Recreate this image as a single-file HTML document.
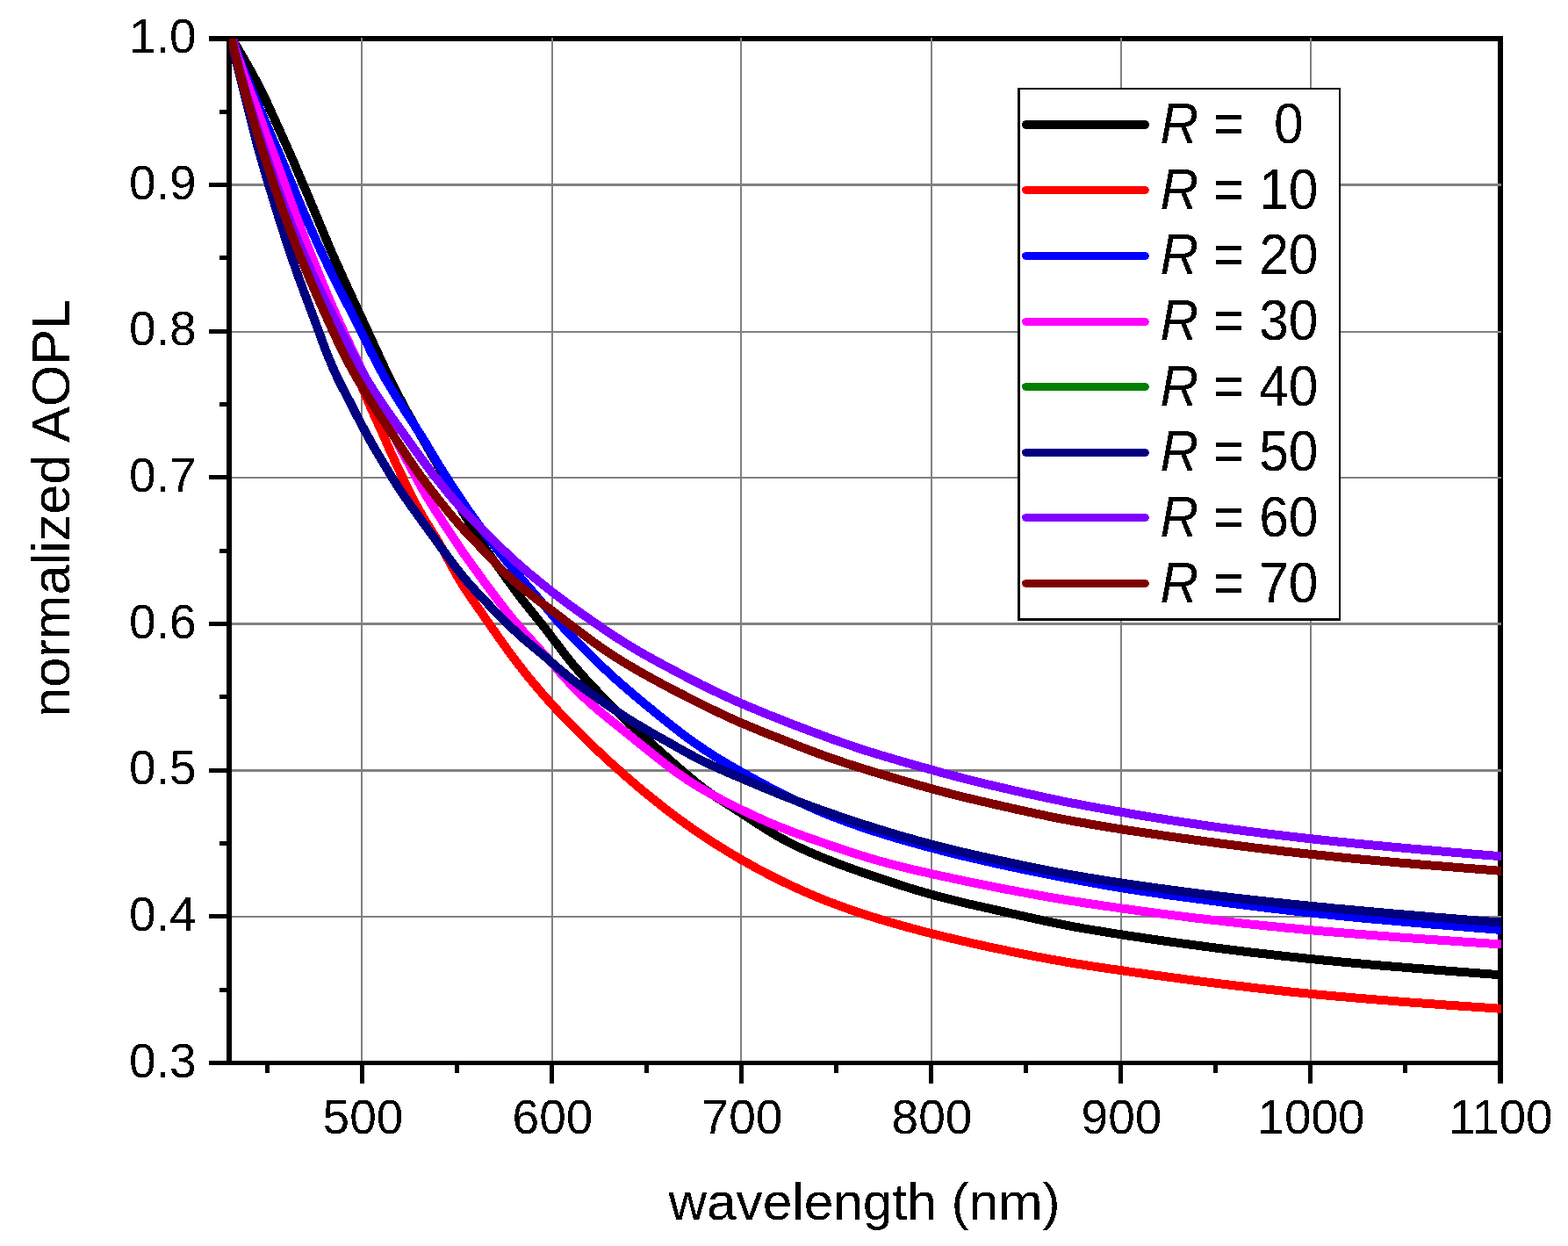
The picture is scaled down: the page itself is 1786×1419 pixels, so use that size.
<!DOCTYPE html>
<html lang="en"><head><meta charset="utf-8"><title>normalized AOPL vs wavelength</title>
<style>html,body{margin:0;padding:0;background:#fff}body{width:1786px;height:1419px;overflow:hidden}svg{display:block}text{font-family:"Liberation Sans",Arial,Helvetica,sans-serif;fill:#000}.tk{font-size:55px}.ax{font-size:60px}.lg{font-size:62.6px}.it{font-style:italic}</style></head><body>
<svg width="1786" height="1419" viewBox="0 0 1786 1419">
<rect width="1786" height="1419" fill="#fff"/>
<defs><clipPath id="c"><rect x="261" y="44" width="1449" height="1166"/></clipPath><filter id="t" x="0" y="0" width="1786" height="1419" filterUnits="userSpaceOnUse" color-interpolation-filters="sRGB"><feComponentTransfer><feFuncA type="discrete" tableValues="0 1"/></feComponentTransfer></filter></defs>
<g fill="#000" shape-rendering="crispEdges"><rect x="238" y="41" width="1474" height="6"/><rect x="1706" y="41" width="6" height="1193"/></g>
<g fill="#808080" shape-rendering="crispEdges"><rect x="411" y="43" width="2" height="1165"/><rect x="628" y="43" width="2" height="1165"/><rect x="843" y="43" width="2" height="1165"/><rect x="1060" y="43" width="2" height="1165"/><rect x="1276" y="43" width="2" height="1165"/><rect x="1492" y="43" width="2" height="1165"/><rect x="264" y="209" width="1446" height="3"/><rect x="264" y="377" width="1446" height="2"/><rect x="264" y="543" width="1446" height="2"/><rect x="264" y="709" width="1446" height="3"/><rect x="264" y="876" width="1446" height="3"/><rect x="264" y="1043" width="1446" height="2"/></g>
<g fill="#000" shape-rendering="crispEdges"><rect x="238" y="1208" width="1474" height="5"/><rect x="258" y="41" width="6" height="1172"/><rect x="238" y="1041" width="21" height="5"/><rect x="238" y="875" width="21" height="5"/><rect x="238" y="708" width="21" height="5"/><rect x="238" y="541" width="21" height="5"/><rect x="238" y="375" width="21" height="5"/><rect x="238" y="208" width="21" height="5"/><rect x="250" y="1125" width="9" height="5"/><rect x="250" y="958" width="9" height="5"/><rect x="250" y="791" width="9" height="5"/><rect x="250" y="625" width="9" height="5"/><rect x="250" y="458" width="9" height="5"/><rect x="250" y="291" width="9" height="5"/><rect x="250" y="125" width="9" height="5"/><rect x="410" y="1210" width="5" height="24"/><rect x="626" y="1210" width="5" height="24"/><rect x="842" y="1210" width="5" height="24"/><rect x="1058" y="1210" width="5" height="24"/><rect x="1274" y="1210" width="5" height="24"/><rect x="1490" y="1210" width="5" height="24"/><rect x="302" y="1210" width="5" height="12"/><rect x="518" y="1210" width="5" height="12"/><rect x="734" y="1210" width="5" height="12"/><rect x="950" y="1210" width="5" height="12"/><rect x="1166" y="1210" width="5" height="12"/><rect x="1382" y="1210" width="5" height="12"/><rect x="1598" y="1210" width="5" height="12"/></g>
<g clip-path="url(#c)" fill="none" stroke-width="10" stroke-linejoin="round" shape-rendering="crispEdges"><path d="M251.2,21.7 L254.3,27.0 L257.4,32.4 L260.6,37.7 L263.7,43.0 L266.9,48.4 L270.0,53.7 L273.2,59.1 L276.3,64.4 L279.4,69.8 L282.5,75.2 L285.6,80.6 L288.6,86.1 L291.6,91.6 L294.5,97.1 L297.4,102.8 L300.1,108.5 L302.9,114.2 L305.5,120.0 L308.2,125.9 L310.9,131.7 L313.5,137.5 L316.1,143.4 L318.8,149.2 L321.4,155.1 L324.1,160.9 L326.7,166.8 L329.3,172.6 L331.9,178.5 L334.5,184.4 L337.0,190.4 L339.5,196.3 L342.1,202.3 L344.6,208.3 L347.1,214.2 L349.7,220.1 L352.2,226.1 L354.7,232.1 L357.2,238.1 L359.7,244.1 L362.2,250.1 L364.7,256.1 L367.2,262.1 L369.6,268.1 L372.2,274.0 L374.7,280.0 L377.2,285.9 L379.8,291.8 L382.4,297.7 L385.1,303.6 L387.7,309.4 L390.3,315.3 L393.0,321.1 L395.6,326.9 L398.3,332.7 L401.0,338.6 L403.7,344.4 L406.3,350.2 L409.0,356.0 L411.7,361.8 L414.4,367.6 L417.1,373.4 L419.7,379.2 L422.4,385.0 L425.1,390.8 L427.8,396.6 L430.5,402.4 L433.1,408.2 L435.8,414.0 L438.5,419.8 L441.3,425.5 L444.1,431.2 L446.9,436.9 L449.7,442.6 L452.6,448.2 L455.5,453.7 L458.5,459.3 L461.4,464.8 L464.4,470.3 L467.5,475.7 L470.5,481.1 L473.6,486.5 L476.8,491.9 L479.9,497.2 L483.0,502.6 L486.1,508.0 L489.2,513.4 L492.3,518.8 L495.4,524.2 L498.5,529.5 L501.6,535.0 L504.6,540.4 L507.6,545.9 L510.5,551.5 L513.4,557.1 L516.3,562.7 L519.2,568.3 L522.1,573.8 L525.1,579.3 L528.2,584.7 L531.3,590.1 L534.5,595.4 L537.6,600.7 L540.9,606.0 L544.1,611.2 L547.4,616.4 L550.8,621.5 L554.2,626.6 L557.6,631.6 L561.1,636.6 L564.6,641.6 L568.2,646.6 L571.7,651.5 L575.3,656.4 L578.8,661.3 L582.4,666.3 L586.0,671.2 L589.6,676.0 L593.2,680.9 L597.0,685.6 L600.7,690.4 L604.5,695.1 L608.3,699.8 L612.0,704.5 L615.8,709.2 L619.5,714.0 L623.3,718.7 L626.9,723.5 L630.6,728.3 L634.3,733.2 L637.9,738.0 L641.6,742.8 L645.3,747.6 L649.1,752.3 L652.9,757.0 L656.8,761.6 L660.8,766.1 L664.7,770.6 L668.8,775.0 L672.8,779.5 L676.9,783.8 L681.1,788.2 L685.2,792.5 L689.4,796.9 L693.6,801.1 L697.8,805.4 L702.0,809.7 L706.3,813.9 L710.6,818.0 L715.0,822.2 L719.4,826.3 L723.8,830.4 L728.2,834.4 L732.7,838.4 L737.2,842.4 L741.6,846.4 L746.1,850.4 L750.6,854.4 L755.1,858.4 L759.6,862.4 L764.1,866.4 L768.6,870.4 L773.1,874.3 L777.7,878.3 L782.2,882.2 L786.8,886.1 L791.5,889.9 L796.2,893.7 L801.0,897.4 L805.9,901.0 L810.9,904.5 L816.0,907.9 L821.1,911.2 L826.3,914.5 L831.5,917.8 L836.7,921.1 L841.9,924.4 L847.0,927.7 L852.2,931.1 L857.3,934.4 L862.4,937.8 L867.6,941.1 L872.7,944.4 L878.0,947.7 L883.3,950.9 L888.7,954.0 L894.2,956.9 L899.7,959.9 L905.4,962.7 L911.1,965.4 L916.9,968.1 L922.8,970.7 L928.7,973.3 L934.7,975.8 L940.7,978.2 L946.8,980.6 L953.0,983.0 L959.2,985.3 L965.4,987.6 L971.6,989.8 L977.9,992.0 L984.2,994.2 L990.5,996.4 L996.9,998.5 L1003.2,1000.6 L1009.6,1002.8 L1015.9,1004.9 L1022.3,1007.0 L1028.8,1009.0 L1035.2,1011.1 L1041.7,1013.1 L1048.2,1015.0 L1054.8,1016.9 L1061.4,1018.8 L1068.1,1020.6 L1074.8,1022.4 L1081.6,1024.1 L1088.4,1025.8 L1095.2,1027.4 L1102.1,1029.1 L1109.0,1030.7 L1115.9,1032.2 L1122.8,1033.8 L1129.7,1035.3 L1136.7,1036.9 L1143.6,1038.4 L1150.6,1040.0 L1157.5,1041.5 L1164.4,1043.1 L1171.4,1044.6 L1178.3,1046.2 L1185.2,1047.7 L1192.2,1049.2 L1199.2,1050.7 L1206.3,1052.1 L1213.4,1053.5 L1220.5,1054.9 L1227.7,1056.2 L1234.9,1057.5 L1242.1,1058.7 L1249.4,1059.9 L1256.7,1061.1 L1264.0,1062.3 L1271.3,1063.4 L1278.7,1064.6 L1286.0,1065.7 L1293.4,1066.8 L1300.8,1067.9 L1308.2,1069.0 L1315.6,1070.1 L1323.0,1071.1 L1330.4,1072.2 L1337.9,1073.2 L1345.3,1074.3 L1352.8,1075.3 L1360.3,1076.3 L1367.8,1077.3 L1375.3,1078.3 L1382.8,1079.3 L1390.3,1080.2 L1397.8,1081.2 L1405.4,1082.1 L1412.9,1083.1 L1420.5,1084.0 L1428.1,1084.9 L1435.7,1085.8 L1443.3,1086.6 L1450.9,1087.5 L1458.5,1088.4 L1466.2,1089.2 L1473.8,1090.0 L1481.5,1090.8 L1489.2,1091.7 L1496.9,1092.4 L1504.6,1093.2 L1512.3,1094.0 L1520.1,1094.7 L1527.8,1095.5 L1535.6,1096.2 L1543.3,1096.9 L1551.1,1097.6 L1558.9,1098.3 L1566.7,1099.0 L1574.5,1099.7 L1582.3,1100.3 L1590.2,1101.0 L1598.0,1101.6 L1605.8,1102.3 L1613.7,1102.9 L1621.5,1103.5 L1629.4,1104.2 L1637.3,1104.8 L1645.1,1105.4 L1653.0,1106.0 L1660.9,1106.6 L1668.8,1107.2 L1676.6,1107.8 L1684.5,1108.4 L1692.4,1109.0 L1700.3,1109.6 L1708.2,1110.2 L1716.1,1110.8 L1724.0,1111.4 L1731.8,1112.0 L1739.7,1112.6" stroke="#000000"/>
<path d="M256.7,17.5 L258.8,23.8 L260.9,30.2 L262.9,36.7 L264.9,43.1 L267.0,49.6 L269.0,56.1 L271.0,62.5 L273.1,68.9 L275.2,75.3 L277.3,81.7 L279.5,88.0 L281.6,94.3 L283.8,100.7 L286.0,107.0 L288.1,113.3 L290.3,119.6 L292.4,125.9 L294.6,132.3 L296.7,138.6 L298.9,145.0 L301.0,151.3 L303.1,157.7 L305.3,164.0 L307.4,170.4 L309.5,176.7 L311.7,183.1 L313.8,189.4 L316.0,195.8 L318.1,202.1 L320.3,208.4 L322.5,214.7 L324.7,221.0 L326.9,227.3 L329.1,233.5 L331.3,239.8 L333.6,246.1 L335.8,252.3 L338.0,258.5 L340.3,264.8 L342.6,271.0 L344.8,277.2 L347.1,283.5 L349.3,289.7 L351.6,295.9 L353.8,302.1 L356.1,308.4 L358.4,314.6 L360.7,320.8 L363.0,327.0 L365.3,333.1 L367.6,339.3 L370.0,345.4 L372.4,351.4 L374.9,357.5 L377.4,363.5 L379.9,369.4 L382.5,375.3 L385.2,381.1 L387.9,386.9 L390.7,392.6 L393.4,398.3 L396.2,404.1 L398.9,409.8 L401.5,415.7 L404.2,421.5 L406.7,427.5 L409.2,433.4 L411.7,439.4 L414.3,445.4 L416.8,451.3 L419.3,457.3 L421.9,463.2 L424.5,469.0 L427.2,474.9 L429.8,480.7 L432.4,486.6 L435.1,492.4 L437.7,498.3 L440.3,504.2 L442.9,510.1 L445.5,515.9 L448.2,521.7 L450.9,527.5 L453.6,533.3 L456.3,539.0 L459.1,544.8 L461.8,550.6 L464.5,556.3 L467.3,562.0 L470.2,567.6 L473.1,573.2 L476.2,578.6 L479.2,584.0 L482.4,589.4 L485.6,594.7 L488.8,600.0 L492.0,605.2 L495.3,610.4 L498.5,615.7 L501.6,621.1 L504.6,626.5 L507.6,632.0 L510.6,637.5 L513.6,643.0 L516.6,648.5 L519.6,654.0 L522.7,659.3 L525.9,664.6 L529.3,669.8 L532.6,674.9 L536.1,679.9 L539.5,685.0 L543.0,690.0 L546.5,695.0 L550.0,700.0 L553.4,705.0 L556.9,710.0 L560.4,715.0 L563.9,720.0 L567.4,725.0 L570.9,730.0 L574.4,734.9 L578.0,739.9 L581.6,744.8 L585.2,749.6 L588.8,754.5 L592.5,759.2 L596.3,764.0 L600.0,768.7 L603.8,773.4 L607.7,778.0 L611.6,782.6 L615.5,787.2 L619.4,791.8 L623.4,796.3 L627.4,800.7 L631.4,805.2 L635.5,809.6 L639.6,814.0 L643.8,818.3 L647.9,822.6 L652.1,826.9 L656.4,831.2 L660.6,835.4 L664.9,839.6 L669.2,843.8 L673.5,848.0 L677.9,852.1 L682.2,856.2 L686.6,860.3 L691.0,864.4 L695.4,868.5 L699.9,872.5 L704.4,876.5 L708.9,880.5 L713.4,884.5 L717.9,888.4 L722.5,892.3 L727.1,896.2 L731.7,900.1 L736.4,903.9 L741.1,907.7 L745.8,911.5 L750.5,915.2 L755.3,919.0 L760.0,922.7 L764.9,926.3 L769.7,930.0 L774.6,933.6 L779.5,937.1 L784.4,940.7 L789.4,944.2 L794.5,947.6 L799.5,951.1 L804.6,954.4 L809.8,957.8 L814.9,961.1 L820.1,964.4 L825.4,967.6 L830.6,970.9 L836.0,974.0 L841.3,977.2 L846.7,980.3 L852.1,983.3 L857.5,986.4 L863.0,989.4 L868.6,992.3 L874.1,995.3 L879.7,998.1 L885.4,1001.0 L891.1,1003.8 L896.8,1006.5 L902.5,1009.3 L908.4,1011.9 L914.2,1014.6 L920.1,1017.1 L926.1,1019.7 L932.1,1022.2 L938.1,1024.6 L944.2,1027.0 L950.3,1029.3 L956.5,1031.6 L962.8,1033.9 L969.0,1036.1 L975.4,1038.3 L981.7,1040.4 L988.1,1042.5 L994.6,1044.5 L1001.0,1046.5 L1007.6,1048.5 L1014.1,1050.4 L1020.7,1052.3 L1027.3,1054.2 L1034.0,1056.0 L1040.6,1057.8 L1047.3,1059.6 L1054.1,1061.4 L1060.8,1063.1 L1067.6,1064.8 L1074.4,1066.5 L1081.3,1068.1 L1088.1,1069.7 L1095.0,1071.3 L1101.9,1072.9 L1108.8,1074.5 L1115.8,1076.0 L1122.7,1077.6 L1129.7,1079.1 L1136.7,1080.6 L1143.7,1082.0 L1150.8,1083.5 L1157.8,1084.9 L1164.9,1086.4 L1171.9,1087.8 L1179.0,1089.2 L1186.1,1090.5 L1193.3,1091.9 L1200.5,1093.2 L1207.7,1094.4 L1214.9,1095.7 L1222.2,1096.9 L1229.5,1098.1 L1236.8,1099.2 L1244.2,1100.4 L1251.6,1101.5 L1259.0,1102.6 L1266.4,1103.7 L1273.8,1104.7 L1281.2,1105.8 L1288.6,1106.9 L1296.0,1107.9 L1303.5,1108.9 L1310.9,1110.0 L1318.4,1111.0 L1325.9,1112.0 L1333.3,1113.0 L1340.8,1114.0 L1348.3,1115.0 L1355.8,1116.0 L1363.3,1117.0 L1370.8,1118.0 L1378.4,1118.9 L1385.9,1119.9 L1393.5,1120.8 L1401.0,1121.7 L1408.6,1122.6 L1416.2,1123.5 L1423.8,1124.4 L1431.4,1125.3 L1439.0,1126.2 L1446.7,1127.0 L1454.3,1127.8 L1462.0,1128.7 L1469.6,1129.5 L1477.3,1130.3 L1485.0,1131.0 L1492.8,1131.8 L1500.5,1132.6 L1508.2,1133.3 L1516.0,1134.0 L1523.8,1134.7 L1531.6,1135.4 L1539.4,1136.1 L1547.2,1136.8 L1555.0,1137.4 L1562.9,1138.1 L1570.7,1138.7 L1578.6,1139.3 L1586.4,1140.0 L1594.3,1140.6 L1602.2,1141.2 L1610.1,1141.8 L1618.0,1142.4 L1625.9,1142.9 L1633.8,1143.5 L1641.7,1144.1 L1649.6,1144.7 L1657.5,1145.2 L1665.5,1145.8 L1673.4,1146.3 L1681.3,1146.9 L1689.3,1147.4 L1697.2,1148.0 L1705.1,1148.5 L1713.1,1149.1 L1721.0,1149.6 L1728.9,1150.2 L1736.9,1150.7" stroke="#ff0000"/>
<path d="M254.9,18.3 L257.2,24.4 L259.5,30.6 L261.8,36.8 L264.0,43.0 L266.3,49.3 L268.6,55.5 L270.9,61.7 L273.2,67.8 L275.5,74.0 L277.9,80.1 L280.3,86.2 L282.7,92.3 L285.1,98.3 L287.6,104.3 L290.2,110.3 L292.7,116.2 L295.3,122.1 L297.8,128.1 L300.4,134.0 L302.9,140.0 L305.4,145.9 L308.0,151.8 L310.5,157.8 L313.1,163.7 L315.7,169.6 L318.2,175.5 L320.8,181.5 L323.3,187.5 L325.8,193.4 L328.3,199.4 L330.8,205.4 L333.3,211.4 L335.7,217.4 L338.2,223.4 L340.7,229.4 L343.2,235.4 L345.8,241.3 L348.4,247.2 L350.9,253.1 L353.5,259.0 L356.1,264.9 L358.8,270.8 L361.4,276.6 L364.1,282.4 L366.8,288.2 L369.5,294.0 L372.2,299.7 L375.0,305.5 L377.7,311.2 L380.5,316.9 L383.4,322.5 L386.2,328.2 L389.1,333.8 L391.9,339.4 L394.8,345.0 L397.7,350.6 L400.6,356.2 L403.4,361.8 L406.3,367.5 L409.1,373.2 L411.9,378.8 L414.7,384.6 L417.5,390.3 L420.3,395.9 L423.1,401.6 L426.0,407.2 L428.9,412.8 L431.8,418.3 L434.8,423.8 L437.8,429.3 L440.9,434.7 L444.1,440.0 L447.3,445.3 L450.5,450.5 L453.8,455.8 L457.0,461.0 L460.3,466.2 L463.6,471.4 L467.0,476.5 L470.3,481.6 L473.7,486.8 L477.0,491.9 L480.3,497.1 L483.6,502.3 L486.8,507.6 L489.9,513.0 L493.1,518.3 L496.2,523.6 L499.4,528.9 L502.7,534.1 L505.9,539.4 L509.2,544.5 L512.6,549.7 L515.9,554.9 L519.2,560.0 L522.6,565.1 L526.0,570.2 L529.4,575.3 L532.9,580.3 L536.4,585.3 L539.9,590.2 L543.5,595.2 L547.0,600.1 L550.6,605.0 L554.2,609.9 L557.9,614.7 L561.6,619.5 L565.3,624.3 L569.0,629.0 L572.8,633.7 L576.6,638.4 L580.4,643.1 L584.3,647.7 L588.2,652.3 L592.1,656.9 L596.0,661.4 L599.9,666.0 L603.9,670.5 L607.8,675.1 L611.7,679.7 L615.6,684.3 L619.5,688.9 L623.4,693.5 L627.3,698.1 L631.2,702.6 L635.1,707.2 L639.1,711.7 L643.1,716.2 L647.1,720.6 L651.2,725.0 L655.4,729.3 L659.7,733.5 L663.9,737.8 L668.2,742.0 L672.4,746.2 L676.7,750.4 L681.0,754.6 L685.4,758.7 L689.8,762.8 L694.2,766.9 L698.6,771.0 L703.1,775.0 L707.6,778.9 L712.2,782.9 L716.7,786.8 L721.3,790.7 L725.9,794.6 L730.5,798.4 L735.2,802.3 L739.8,806.1 L744.5,809.9 L749.2,813.7 L753.9,817.5 L758.6,821.3 L763.3,825.1 L768.1,828.8 L772.8,832.5 L777.6,836.2 L782.5,839.8 L787.4,843.4 L792.3,846.9 L797.4,850.4 L802.4,853.8 L807.6,857.2 L812.8,860.5 L818.0,863.7 L823.3,866.9 L828.6,870.1 L834.0,873.2 L839.3,876.3 L844.8,879.4 L850.2,882.4 L855.7,885.4 L861.1,888.4 L866.6,891.4 L872.2,894.4 L877.8,897.3 L883.4,900.2 L889.0,903.0 L894.6,905.9 L900.3,908.7 L906.0,911.4 L911.8,914.1 L917.6,916.8 L923.5,919.4 L929.4,922.0 L935.3,924.6 L941.3,927.1 L947.4,929.5 L953.5,931.9 L959.6,934.2 L965.9,936.5 L972.1,938.7 L978.4,940.9 L984.7,943.0 L991.1,945.2 L997.5,947.2 L1004.0,949.3 L1010.4,951.3 L1016.9,953.3 L1023.5,955.2 L1030.1,957.1 L1036.7,959.0 L1043.3,960.8 L1050.0,962.7 L1056.6,964.5 L1063.3,966.3 L1070.1,968.0 L1076.8,969.7 L1083.6,971.4 L1090.4,973.1 L1097.2,974.8 L1104.1,976.4 L1111.0,978.0 L1117.8,979.6 L1124.8,981.2 L1131.7,982.8 L1138.6,984.3 L1145.6,985.8 L1152.6,987.3 L1159.6,988.8 L1166.6,990.3 L1173.6,991.7 L1180.7,993.2 L1187.7,994.6 L1194.8,996.0 L1201.9,997.4 L1209.0,998.8 L1216.1,1000.2 L1223.2,1001.5 L1230.4,1002.9 L1237.5,1004.2 L1244.7,1005.5 L1251.9,1006.8 L1259.1,1008.1 L1266.3,1009.3 L1273.6,1010.5 L1280.9,1011.7 L1288.2,1012.9 L1295.6,1014.0 L1302.9,1015.2 L1310.3,1016.3 L1317.7,1017.3 L1325.1,1018.4 L1332.6,1019.5 L1340.0,1020.5 L1347.5,1021.5 L1355.0,1022.5 L1362.4,1023.5 L1369.9,1024.5 L1377.4,1025.5 L1384.9,1026.5 L1392.4,1027.5 L1399.9,1028.5 L1407.5,1029.4 L1415.0,1030.4 L1422.5,1031.3 L1430.1,1032.3 L1437.7,1033.2 L1445.2,1034.1 L1452.8,1035.0 L1460.4,1035.9 L1468.0,1036.8 L1475.6,1037.6 L1483.3,1038.5 L1490.9,1039.3 L1498.6,1040.1 L1506.3,1040.9 L1513.9,1041.7 L1521.6,1042.5 L1529.4,1043.3 L1537.1,1044.1 L1544.8,1044.8 L1552.6,1045.6 L1560.3,1046.3 L1568.1,1047.0 L1575.9,1047.7 L1583.6,1048.4 L1591.4,1049.1 L1599.2,1049.8 L1607.0,1050.5 L1614.8,1051.2 L1622.7,1051.8 L1630.5,1052.5 L1638.3,1053.1 L1646.1,1053.8 L1654.0,1054.4 L1661.8,1055.1 L1669.7,1055.7 L1677.5,1056.4 L1685.4,1057.0 L1693.2,1057.6 L1701.1,1058.3 L1708.9,1058.9 L1716.8,1059.5 L1724.6,1060.2 L1732.5,1060.8 L1740.3,1061.4" stroke="#0000ff"/>
<path d="M254.9,17.7 L257.1,24.0 L259.3,30.3 L261.4,36.7 L263.6,43.0 L265.7,49.4 L267.8,55.7 L270.0,62.1 L272.2,68.4 L274.4,74.7 L276.6,80.9 L278.8,87.2 L281.1,93.4 L283.4,99.5 L285.7,105.7 L288.1,111.8 L290.4,118.0 L292.7,124.2 L295.0,130.4 L297.3,136.6 L299.6,142.8 L301.8,149.0 L304.1,155.2 L306.4,161.4 L308.7,167.6 L311.1,173.7 L313.4,179.9 L315.7,186.1 L318.0,192.2 L320.3,198.5 L322.5,204.7 L324.8,210.9 L327.0,217.2 L329.2,223.5 L331.4,229.7 L333.7,235.9 L336.0,242.1 L338.3,248.3 L340.6,254.5 L342.9,260.7 L345.3,266.8 L347.6,272.9 L350.0,279.0 L352.4,285.1 L354.9,291.1 L357.3,297.2 L359.7,303.3 L362.1,309.3 L364.6,315.4 L367.0,321.4 L369.5,327.4 L372.0,333.4 L374.5,339.4 L377.0,345.3 L379.6,351.2 L382.2,357.1 L384.8,363.0 L387.5,368.9 L390.1,374.7 L392.8,380.5 L395.5,386.3 L398.2,392.0 L401.0,397.8 L403.7,403.5 L406.4,409.3 L409.2,415.0 L411.9,420.7 L414.7,426.4 L417.5,432.2 L420.2,437.9 L423.0,443.6 L425.8,449.3 L428.5,455.0 L431.3,460.8 L434.1,466.5 L436.8,472.2 L439.6,477.9 L442.4,483.6 L445.2,489.3 L448.0,495.0 L450.8,500.6 L453.7,506.3 L456.6,511.8 L459.6,517.4 L462.6,522.9 L465.6,528.3 L468.6,533.8 L471.6,539.3 L474.5,544.8 L477.5,550.3 L480.5,555.8 L483.6,561.2 L486.7,566.6 L490.0,571.8 L493.2,577.0 L496.5,582.2 L499.9,587.4 L503.2,592.5 L506.5,597.7 L509.8,602.9 L513.2,608.0 L516.6,613.1 L520.0,618.1 L523.4,623.2 L526.9,628.2 L530.4,633.2 L533.9,638.2 L537.5,643.1 L541.0,648.0 L544.6,653.0 L548.1,657.9 L551.7,662.8 L555.3,667.7 L558.9,672.6 L562.5,677.4 L566.2,682.3 L569.9,687.1 L573.6,691.8 L577.3,696.6 L581.1,701.3 L584.9,706.0 L588.8,710.6 L592.7,715.2 L596.6,719.7 L600.6,724.2 L604.7,728.6 L608.7,733.1 L612.8,737.5 L616.8,741.9 L620.8,746.4 L624.8,750.9 L628.8,755.4 L632.8,759.9 L636.7,764.5 L640.7,769.0 L644.7,773.4 L648.8,777.8 L653.0,782.2 L657.2,786.4 L661.5,790.6 L665.8,794.8 L670.2,798.8 L674.7,802.8 L679.3,806.8 L683.9,810.7 L688.5,814.5 L693.2,818.3 L697.9,822.1 L702.6,825.8 L707.3,829.6 L712.0,833.4 L716.7,837.2 L721.4,841.0 L726.1,844.8 L730.8,848.6 L735.5,852.4 L740.2,856.2 L744.9,859.9 L749.6,863.7 L754.4,867.4 L759.2,871.1 L764.0,874.8 L768.9,878.4 L773.8,881.9 L778.9,885.4 L783.9,888.8 L789.1,892.1 L794.3,895.3 L799.7,898.5 L805.1,901.6 L810.5,904.6 L816.0,907.6 L821.5,910.6 L827.1,913.5 L832.7,916.3 L838.4,919.2 L844.1,922.0 L849.8,924.7 L855.5,927.5 L861.3,930.2 L867.1,932.8 L873.0,935.5 L879.0,938.0 L884.9,940.5 L891.0,942.9 L897.1,945.3 L903.3,947.7 L909.4,949.9 L915.7,952.2 L921.9,954.4 L928.2,956.6 L934.5,958.8 L940.8,961.0 L947.1,963.2 L953.5,965.3 L959.8,967.5 L966.2,969.6 L972.6,971.7 L979.0,973.7 L985.5,975.7 L992.0,977.7 L998.6,979.6 L1005.2,981.5 L1011.9,983.3 L1018.6,985.0 L1025.4,986.7 L1032.2,988.4 L1039.0,990.1 L1045.9,991.7 L1052.8,993.2 L1059.7,994.8 L1066.7,996.4 L1073.6,997.9 L1080.6,999.4 L1087.6,1000.9 L1094.6,1002.4 L1101.6,1003.9 L1108.6,1005.3 L1115.7,1006.8 L1122.7,1008.2 L1129.8,1009.6 L1136.9,1011.0 L1144.0,1012.4 L1151.1,1013.7 L1158.3,1015.1 L1165.4,1016.4 L1172.6,1017.7 L1179.8,1019.0 L1187.0,1020.3 L1194.2,1021.6 L1201.5,1022.8 L1208.7,1024.0 L1216.0,1025.2 L1223.3,1026.4 L1230.7,1027.5 L1238.0,1028.7 L1245.4,1029.8 L1252.8,1030.9 L1260.2,1032.0 L1267.6,1033.0 L1275.0,1034.1 L1282.5,1035.1 L1289.9,1036.2 L1297.4,1037.2 L1304.9,1038.2 L1312.3,1039.2 L1319.8,1040.2 L1327.3,1041.2 L1334.9,1042.1 L1342.4,1043.1 L1349.9,1044.0 L1357.5,1045.0 L1365.1,1045.9 L1372.7,1046.8 L1380.2,1047.7 L1387.9,1048.5 L1395.5,1049.4 L1403.1,1050.2 L1410.8,1051.1 L1418.4,1051.9 L1426.1,1052.7 L1433.8,1053.5 L1441.5,1054.3 L1449.2,1055.1 L1456.9,1055.8 L1464.6,1056.6 L1472.4,1057.3 L1480.1,1058.1 L1487.9,1058.8 L1495.7,1059.5 L1503.5,1060.2 L1511.3,1060.9 L1519.1,1061.5 L1526.9,1062.2 L1534.8,1062.8 L1542.6,1063.5 L1550.5,1064.1 L1558.4,1064.7 L1566.2,1065.3 L1574.1,1065.9 L1582.0,1066.5 L1589.9,1067.1 L1597.8,1067.7 L1605.7,1068.3 L1613.6,1068.8 L1621.5,1069.4 L1629.5,1070.0 L1637.4,1070.5 L1645.3,1071.1 L1653.3,1071.6 L1661.2,1072.2 L1669.2,1072.7 L1677.1,1073.2 L1685.0,1073.8 L1693.0,1074.3 L1700.9,1074.9 L1708.9,1075.4 L1716.8,1075.9 L1724.8,1076.5 L1732.7,1077.0 L1740.7,1077.5" stroke="#ff00ff"/>
<path d="M255.1,15.9 L256.8,22.6 L258.5,29.4 L260.3,36.1 L262.0,42.9 L263.7,49.6 L265.5,56.4 L267.2,63.1 L269.0,69.9 L270.7,76.6 L272.4,83.4 L274.2,90.1 L275.9,96.9 L277.6,103.6 L279.3,110.4 L281.0,117.2 L282.7,124.1 L284.3,130.9 L286.0,137.7 L287.7,144.5 L289.4,151.2 L291.2,158.0 L292.9,164.7 L294.8,171.3 L296.6,178.0 L298.5,184.6 L300.4,191.2 L302.3,197.7 L304.2,204.3 L306.2,210.8 L308.2,217.3 L310.2,223.8 L312.1,230.3 L314.1,236.8 L316.1,243.3 L318.1,249.8 L320.1,256.3 L322.2,262.7 L324.3,269.1 L326.4,275.5 L328.5,281.9 L330.6,288.3 L332.7,294.6 L334.9,300.9 L337.1,307.2 L339.3,313.5 L341.6,319.7 L343.9,325.9 L346.1,332.1 L348.5,338.3 L350.8,344.4 L353.1,350.6 L355.4,356.7 L357.7,362.9 L360.0,369.1 L362.3,375.3 L364.6,381.5 L366.8,387.8 L369.1,393.9 L371.5,400.1 L373.9,406.2 L376.4,412.2 L378.9,418.1 L381.5,424.0 L384.2,429.8 L387.0,435.5 L389.8,441.1 L392.8,446.7 L395.7,452.2 L398.6,457.8 L401.5,463.5 L404.3,469.1 L407.2,474.7 L410.1,480.3 L413.0,485.8 L416.0,491.4 L419.0,496.8 L422.0,502.3 L425.1,507.7 L428.2,513.1 L431.4,518.4 L434.5,523.7 L437.7,529.0 L440.9,534.3 L444.1,539.6 L447.3,544.9 L450.6,550.1 L453.9,555.2 L457.3,560.4 L460.7,565.4 L464.2,570.4 L467.7,575.4 L471.3,580.3 L474.8,585.3 L478.4,590.2 L481.9,595.1 L485.5,600.0 L489.0,605.0 L492.6,609.9 L496.2,614.8 L499.7,619.7 L503.3,624.6 L506.9,629.6 L510.5,634.5 L514.1,639.3 L517.7,644.2 L521.4,649.0 L525.1,653.7 L529.0,658.4 L532.9,663.0 L536.8,667.5 L540.9,671.9 L545.0,676.3 L549.1,680.7 L553.2,685.0 L557.4,689.4 L561.5,693.7 L565.7,698.0 L569.9,702.3 L574.1,706.6 L578.4,710.8 L582.7,714.9 L587.1,719.0 L591.5,723.1 L596.0,727.1 L600.6,731.0 L605.2,734.9 L609.9,738.7 L614.5,742.6 L619.1,746.4 L623.7,750.3 L628.2,754.3 L632.8,758.2 L637.3,762.2 L641.9,766.0 L646.6,769.9 L651.3,773.7 L656.1,777.4 L660.9,781.0 L665.8,784.6 L670.8,788.1 L675.8,791.6 L680.8,795.1 L685.7,798.6 L690.7,802.1 L695.8,805.5 L700.8,809.0 L705.9,812.4 L711.0,815.7 L716.2,819.0 L721.5,822.3 L726.7,825.5 L732.1,828.6 L737.4,831.8 L742.8,834.9 L748.2,838.0 L753.6,841.0 L759.1,844.1 L764.5,847.1 L769.9,850.2 L775.3,853.3 L780.7,856.3 L786.2,859.3 L791.8,862.3 L797.4,865.1 L803.1,867.9 L808.8,870.7 L814.6,873.3 L820.5,876.0 L826.4,878.6 L832.3,881.1 L838.2,883.7 L844.2,886.2 L850.1,888.8 L856.1,891.3 L862.0,893.8 L868.0,896.3 L874.0,898.8 L880.0,901.3 L886.1,903.8 L892.1,906.2 L898.2,908.6 L904.3,910.9 L910.5,913.3 L916.6,915.6 L922.8,917.9 L929.0,920.2 L935.3,922.4 L941.5,924.6 L947.8,926.8 L954.1,929.0 L960.4,931.2 L966.8,933.3 L973.2,935.4 L979.6,937.5 L986.0,939.6 L992.4,941.6 L998.9,943.7 L1005.4,945.7 L1011.9,947.7 L1018.4,949.6 L1024.9,951.6 L1031.5,953.5 L1038.1,955.3 L1044.7,957.2 L1051.4,959.0 L1058.1,960.8 L1064.8,962.6 L1071.6,964.3 L1078.3,966.0 L1085.2,967.7 L1092.0,969.4 L1098.8,971.0 L1105.7,972.6 L1112.6,974.2 L1119.5,975.7 L1126.5,977.3 L1133.4,978.8 L1140.4,980.3 L1147.4,981.8 L1154.4,983.3 L1161.4,984.8 L1168.4,986.3 L1175.4,987.7 L1182.5,989.2 L1189.6,990.6 L1196.7,992.0 L1203.8,993.3 L1210.9,994.6 L1218.1,995.9 L1225.4,997.2 L1232.6,998.4 L1239.9,999.7 L1247.2,1000.8 L1254.5,1002.0 L1261.8,1003.2 L1269.2,1004.3 L1276.5,1005.4 L1283.9,1006.5 L1291.3,1007.6 L1298.7,1008.7 L1306.2,1009.7 L1313.6,1010.8 L1321.1,1011.8 L1328.5,1012.8 L1336.0,1013.8 L1343.5,1014.8 L1351.0,1015.8 L1358.5,1016.8 L1366.1,1017.7 L1373.6,1018.7 L1381.2,1019.6 L1388.7,1020.5 L1396.3,1021.4 L1403.9,1022.3 L1411.5,1023.2 L1419.1,1024.0 L1426.8,1024.9 L1434.4,1025.7 L1442.1,1026.6 L1449.7,1027.4 L1457.4,1028.2 L1465.1,1029.0 L1472.8,1029.8 L1480.5,1030.6 L1488.2,1031.4 L1495.9,1032.1 L1503.6,1032.9 L1511.4,1033.6 L1519.1,1034.4 L1526.9,1035.1 L1534.6,1035.8 L1542.4,1036.5 L1550.2,1037.2 L1558.0,1037.9 L1565.8,1038.6 L1573.6,1039.3 L1581.4,1040.0 L1589.2,1040.7 L1597.0,1041.4 L1604.8,1042.0 L1612.6,1042.7 L1620.4,1043.3 L1628.3,1044.0 L1636.1,1044.7 L1643.9,1045.3 L1651.8,1045.9 L1659.6,1046.6 L1667.5,1047.2 L1675.3,1047.9 L1683.2,1048.5 L1691.0,1049.1 L1698.9,1049.8 L1706.7,1050.4 L1714.6,1051.1 L1722.4,1051.7 L1730.3,1052.3 L1738.1,1053.0" stroke="#008000"/>
<path d="M255.1,15.9 L256.8,22.6 L258.5,29.4 L260.3,36.1 L262.0,42.9 L263.7,49.6 L265.5,56.4 L267.2,63.1 L269.0,69.9 L270.7,76.6 L272.4,83.4 L274.2,90.1 L275.9,96.9 L277.6,103.6 L279.3,110.4 L281.0,117.2 L282.7,124.1 L284.3,130.9 L286.0,137.7 L287.7,144.5 L289.4,151.2 L291.2,158.0 L292.9,164.7 L294.8,171.3 L296.6,178.0 L298.5,184.6 L300.4,191.2 L302.3,197.7 L304.2,204.3 L306.2,210.8 L308.2,217.3 L310.2,223.8 L312.1,230.3 L314.1,236.8 L316.1,243.3 L318.1,249.8 L320.1,256.3 L322.2,262.7 L324.3,269.1 L326.4,275.5 L328.5,281.9 L330.6,288.3 L332.7,294.6 L334.9,300.9 L337.1,307.2 L339.3,313.5 L341.6,319.7 L343.9,325.9 L346.1,332.1 L348.5,338.3 L350.8,344.4 L353.1,350.6 L355.4,356.7 L357.7,362.9 L360.0,369.1 L362.3,375.3 L364.6,381.5 L366.8,387.8 L369.1,393.9 L371.5,400.1 L373.9,406.2 L376.4,412.2 L378.9,418.1 L381.5,424.0 L384.2,429.8 L387.0,435.5 L389.8,441.1 L392.8,446.7 L395.7,452.2 L398.6,457.8 L401.5,463.5 L404.3,469.1 L407.2,474.7 L410.1,480.3 L413.0,485.8 L416.0,491.4 L419.0,496.8 L422.0,502.3 L425.1,507.7 L428.2,513.1 L431.4,518.4 L434.5,523.7 L437.7,529.0 L440.9,534.3 L444.1,539.6 L447.3,544.9 L450.6,550.1 L453.9,555.2 L457.3,560.4 L460.7,565.4 L464.2,570.4 L467.7,575.4 L471.3,580.3 L474.8,585.3 L478.4,590.2 L481.9,595.1 L485.5,600.0 L489.0,605.0 L492.6,609.9 L496.2,614.8 L499.7,619.7 L503.3,624.6 L506.9,629.6 L510.5,634.5 L514.1,639.3 L517.7,644.2 L521.4,649.0 L525.1,653.7 L529.0,658.4 L532.9,663.0 L536.8,667.5 L540.9,671.9 L545.0,676.3 L549.1,680.7 L553.2,685.0 L557.4,689.4 L561.5,693.7 L565.7,698.0 L569.9,702.3 L574.1,706.6 L578.4,710.8 L582.7,714.9 L587.1,719.0 L591.5,723.1 L596.0,727.1 L600.6,731.0 L605.2,734.9 L609.9,738.7 L614.5,742.6 L619.1,746.4 L623.7,750.3 L628.2,754.3 L632.8,758.2 L637.3,762.2 L641.9,766.0 L646.6,769.9 L651.3,773.7 L656.1,777.4 L660.9,781.0 L665.8,784.6 L670.8,788.1 L675.8,791.6 L680.8,795.1 L685.7,798.6 L690.7,802.1 L695.8,805.5 L700.8,809.0 L705.9,812.4 L711.0,815.7 L716.2,819.0 L721.5,822.3 L726.7,825.5 L732.1,828.6 L737.4,831.8 L742.8,834.9 L748.2,838.0 L753.6,841.0 L759.1,844.1 L764.5,847.1 L769.9,850.2 L775.3,853.3 L780.7,856.3 L786.2,859.3 L791.8,862.3 L797.4,865.1 L803.1,867.9 L808.8,870.7 L814.6,873.3 L820.5,876.0 L826.4,878.6 L832.3,881.1 L838.2,883.7 L844.2,886.2 L850.1,888.8 L856.1,891.3 L862.0,893.8 L868.0,896.3 L874.0,898.8 L880.0,901.3 L886.1,903.8 L892.1,906.2 L898.2,908.6 L904.3,910.9 L910.5,913.3 L916.6,915.6 L922.8,917.9 L929.0,920.2 L935.3,922.4 L941.5,924.6 L947.8,926.8 L954.1,929.0 L960.4,931.2 L966.8,933.3 L973.2,935.4 L979.6,937.5 L986.0,939.6 L992.4,941.6 L998.9,943.7 L1005.4,945.7 L1011.9,947.7 L1018.4,949.6 L1024.9,951.6 L1031.5,953.5 L1038.1,955.3 L1044.7,957.2 L1051.4,959.0 L1058.1,960.8 L1064.8,962.6 L1071.6,964.3 L1078.3,966.0 L1085.2,967.7 L1092.0,969.4 L1098.8,971.0 L1105.7,972.6 L1112.6,974.2 L1119.5,975.7 L1126.5,977.3 L1133.4,978.8 L1140.4,980.3 L1147.4,981.8 L1154.4,983.3 L1161.4,984.8 L1168.4,986.3 L1175.4,987.7 L1182.5,989.2 L1189.6,990.6 L1196.7,992.0 L1203.8,993.3 L1210.9,994.6 L1218.1,995.9 L1225.4,997.2 L1232.6,998.4 L1239.9,999.7 L1247.2,1000.8 L1254.5,1002.0 L1261.8,1003.2 L1269.2,1004.3 L1276.5,1005.4 L1283.9,1006.5 L1291.3,1007.6 L1298.7,1008.7 L1306.2,1009.7 L1313.6,1010.8 L1321.1,1011.8 L1328.5,1012.8 L1336.0,1013.8 L1343.5,1014.8 L1351.0,1015.8 L1358.5,1016.8 L1366.1,1017.7 L1373.6,1018.7 L1381.2,1019.6 L1388.7,1020.5 L1396.3,1021.4 L1403.9,1022.3 L1411.5,1023.2 L1419.1,1024.0 L1426.8,1024.9 L1434.4,1025.7 L1442.1,1026.6 L1449.7,1027.4 L1457.4,1028.2 L1465.1,1029.0 L1472.8,1029.8 L1480.5,1030.6 L1488.2,1031.4 L1495.9,1032.1 L1503.6,1032.9 L1511.4,1033.6 L1519.1,1034.4 L1526.9,1035.1 L1534.6,1035.8 L1542.4,1036.5 L1550.2,1037.2 L1558.0,1037.9 L1565.8,1038.6 L1573.6,1039.3 L1581.4,1040.0 L1589.2,1040.7 L1597.0,1041.4 L1604.8,1042.0 L1612.6,1042.7 L1620.4,1043.3 L1628.3,1044.0 L1636.1,1044.7 L1643.9,1045.3 L1651.8,1045.9 L1659.6,1046.6 L1667.5,1047.2 L1675.3,1047.9 L1683.2,1048.5 L1691.0,1049.1 L1698.9,1049.8 L1706.7,1050.4 L1714.6,1051.1 L1722.4,1051.7 L1730.3,1052.3 L1738.1,1053.0" stroke="#000080"/>
<path d="M257.0,15.8 L258.7,22.6 L260.5,29.4 L262.2,36.1 L263.9,42.9 L265.6,49.7 L267.3,56.5 L269.0,63.3 L270.7,70.0 L272.4,76.8 L274.2,83.5 L276.0,90.2 L277.8,96.9 L279.7,103.5 L281.6,110.0 L283.6,116.5 L285.6,123.0 L287.7,129.4 L289.7,135.9 L291.8,142.3 L293.9,148.7 L295.9,155.1 L298.0,161.5 L300.2,167.8 L302.3,174.2 L304.5,180.5 L306.6,186.8 L308.8,193.2 L311.0,199.5 L313.2,205.7 L315.4,212.0 L317.6,218.3 L319.9,224.5 L322.2,230.7 L324.5,236.9 L326.8,243.0 L329.2,249.1 L331.6,255.2 L334.0,261.3 L336.5,267.3 L339.0,273.3 L341.5,279.3 L344.0,285.2 L346.6,291.1 L349.2,297.0 L351.8,302.9 L354.5,308.7 L357.1,314.5 L359.8,320.3 L362.6,326.0 L365.3,331.8 L368.1,337.5 L370.9,343.1 L373.8,348.8 L376.6,354.4 L379.5,360.0 L382.4,365.6 L385.3,371.2 L388.2,376.8 L391.2,382.3 L394.1,387.9 L397.0,393.5 L399.9,399.0 L402.8,404.6 L405.7,410.2 L408.6,415.8 L411.6,421.3 L414.6,426.7 L417.8,432.1 L420.9,437.4 L424.2,442.6 L427.5,447.8 L430.9,452.9 L434.3,458.0 L437.7,463.0 L441.2,468.1 L444.7,473.1 L448.2,478.0 L451.7,483.0 L455.3,487.9 L458.8,492.8 L462.4,497.8 L465.9,502.7 L469.5,507.7 L473.0,512.6 L476.6,517.5 L480.1,522.4 L483.8,527.3 L487.4,532.2 L491.1,537.0 L494.7,541.8 L498.5,546.5 L502.2,551.3 L506.0,556.0 L509.8,560.7 L513.6,565.3 L517.5,569.9 L521.5,574.4 L525.5,578.9 L529.6,583.3 L533.8,587.6 L538.1,591.8 L542.4,596.0 L546.6,600.2 L550.9,604.4 L555.2,608.6 L559.5,612.8 L563.8,617.0 L568.0,621.2 L572.3,625.4 L576.6,629.6 L581.0,633.7 L585.4,637.8 L589.9,641.8 L594.4,645.7 L599.0,649.7 L603.6,653.6 L608.2,657.4 L612.8,661.3 L617.5,665.1 L622.3,668.8 L627.0,672.6 L631.8,676.3 L636.6,679.9 L641.4,683.6 L646.3,687.2 L651.2,690.8 L656.1,694.4 L661.1,697.9 L666.1,701.4 L671.1,704.9 L676.1,708.3 L681.1,711.8 L686.1,715.3 L691.2,718.7 L696.3,722.1 L701.4,725.5 L706.5,728.8 L711.7,732.1 L717.0,735.3 L722.3,738.5 L727.6,741.7 L733.0,744.8 L738.4,747.8 L743.9,750.9 L749.4,753.9 L754.9,756.8 L760.4,759.8 L766.0,762.7 L771.5,765.6 L777.1,768.6 L782.6,771.5 L788.2,774.4 L793.8,777.2 L799.5,780.1 L805.2,782.9 L810.9,785.7 L816.6,788.4 L822.4,791.1 L828.2,793.8 L834.0,796.5 L839.9,799.1 L845.8,801.7 L851.7,804.2 L857.7,806.7 L863.7,809.2 L869.7,811.7 L875.7,814.2 L881.8,816.6 L887.9,819.0 L893.9,821.4 L900.0,823.8 L906.2,826.2 L912.3,828.5 L918.4,830.8 L924.6,833.2 L930.8,835.5 L937.0,837.7 L943.2,840.0 L949.5,842.3 L955.7,844.5 L962.0,846.7 L968.3,848.8 L974.7,851.0 L981.0,853.1 L987.4,855.2 L993.9,857.2 L1000.4,859.2 L1006.9,861.2 L1013.5,863.1 L1020.0,865.0 L1026.6,866.9 L1033.2,868.8 L1039.8,870.7 L1046.4,872.6 L1053.0,874.4 L1059.6,876.3 L1066.3,878.2 L1072.9,880.0 L1079.6,881.8 L1086.3,883.6 L1093.1,885.3 L1099.8,887.1 L1106.6,888.8 L1113.4,890.5 L1120.2,892.1 L1127.0,893.8 L1133.9,895.4 L1140.8,897.0 L1147.6,898.6 L1154.5,900.2 L1161.4,901.8 L1168.4,903.4 L1175.3,904.9 L1182.3,906.4 L1189.2,908.0 L1196.2,909.4 L1203.2,910.9 L1210.3,912.4 L1217.4,913.8 L1224.4,915.2 L1231.6,916.5 L1238.7,917.9 L1245.8,919.2 L1253.0,920.5 L1260.2,921.8 L1267.4,923.1 L1274.6,924.4 L1281.9,925.6 L1289.1,926.9 L1296.4,928.1 L1303.6,929.3 L1310.9,930.5 L1318.2,931.7 L1325.5,932.9 L1332.9,934.0 L1340.2,935.2 L1347.6,936.3 L1354.9,937.4 L1362.3,938.5 L1369.7,939.6 L1377.1,940.7 L1384.6,941.7 L1392.0,942.8 L1399.5,943.8 L1407.0,944.8 L1414.4,945.8 L1422.0,946.8 L1429.5,947.7 L1437.0,948.7 L1444.6,949.6 L1452.1,950.5 L1459.7,951.4 L1467.3,952.3 L1474.9,953.2 L1482.5,954.1 L1490.1,954.9 L1497.8,955.8 L1505.4,956.6 L1513.1,957.4 L1520.8,958.2 L1528.5,959.0 L1536.2,959.8 L1543.9,960.6 L1551.6,961.3 L1559.4,962.1 L1567.1,962.8 L1574.9,963.5 L1582.6,964.3 L1590.4,965.0 L1598.2,965.7 L1606.0,966.4 L1613.8,967.1 L1621.6,967.8 L1629.4,968.4 L1637.2,969.1 L1645.0,969.8 L1652.8,970.5 L1660.6,971.1 L1668.4,971.8 L1676.3,972.5 L1684.1,973.1 L1691.9,973.8 L1699.7,974.4 L1707.6,975.1 L1715.4,975.7 L1723.2,976.4 L1731.1,977.1 L1738.9,977.7" stroke="#8000ff"/>
<path d="M256.4,15.8 L258.2,22.6 L259.9,29.3 L261.6,36.1 L263.3,42.9 L264.9,49.7 L266.6,56.5 L268.3,63.3 L270.0,70.1 L271.8,76.8 L273.5,83.6 L275.3,90.3 L277.1,97.0 L278.9,103.6 L280.8,110.3 L282.7,116.8 L284.6,123.4 L286.6,129.9 L288.5,136.5 L290.5,143.0 L292.4,149.5 L294.4,156.0 L296.4,162.5 L298.4,169.0 L300.5,175.4 L302.5,181.9 L304.6,188.3 L306.7,194.7 L308.8,201.1 L310.9,207.4 L313.1,213.7 L315.3,220.0 L317.5,226.3 L319.7,232.6 L321.9,238.8 L324.2,245.0 L326.5,251.2 L328.8,257.4 L331.1,263.6 L333.5,269.7 L335.8,275.8 L338.2,282.0 L340.6,288.0 L343.0,294.1 L345.5,300.1 L347.9,306.2 L350.4,312.2 L352.9,318.1 L355.5,324.1 L358.0,330.0 L360.6,335.9 L363.2,341.7 L365.9,347.6 L368.5,353.5 L371.2,359.3 L373.8,365.1 L376.5,371.0 L379.1,376.8 L381.8,382.6 L384.5,388.4 L387.2,394.2 L390.0,399.9 L392.8,405.5 L395.7,411.1 L398.7,416.6 L401.7,422.1 L404.8,427.5 L407.9,432.9 L411.0,438.2 L414.2,443.5 L417.4,448.8 L420.6,454.1 L423.9,459.3 L427.2,464.5 L430.5,469.6 L433.9,474.7 L437.3,479.8 L440.7,484.9 L444.1,490.0 L447.5,495.1 L450.9,500.2 L454.3,505.3 L457.6,510.4 L461.0,515.6 L464.3,520.7 L467.7,525.8 L471.2,530.8 L474.6,535.8 L478.2,540.8 L481.7,545.7 L485.4,550.5 L489.0,555.4 L492.7,560.2 L496.5,564.9 L500.2,569.7 L504.0,574.4 L507.7,579.1 L511.5,583.8 L515.4,588.4 L519.3,593.0 L523.2,597.6 L527.2,602.1 L531.3,606.5 L535.4,610.8 L539.5,615.2 L543.7,619.5 L547.8,623.9 L551.9,628.2 L556.1,632.6 L560.2,636.9 L564.3,641.3 L568.5,645.6 L572.7,649.9 L577.0,654.1 L581.4,658.2 L585.9,662.1 L590.5,666.0 L595.2,669.8 L600.0,673.5 L604.7,677.2 L609.5,681.0 L614.3,684.6 L619.2,688.3 L624.0,691.9 L628.8,695.6 L633.7,699.2 L638.5,702.9 L643.3,706.6 L648.1,710.3 L652.9,713.9 L657.8,717.6 L662.6,721.2 L667.4,724.9 L672.3,728.5 L677.2,732.1 L682.1,735.6 L687.1,739.1 L692.2,742.5 L697.3,745.9 L702.5,749.2 L707.7,752.5 L713.0,755.7 L718.3,758.8 L723.7,762.0 L729.0,765.1 L734.5,768.2 L739.9,771.2 L745.4,774.2 L750.9,777.2 L756.4,780.2 L761.9,783.1 L767.5,786.0 L773.1,788.9 L778.8,791.7 L784.4,794.6 L790.1,797.4 L795.7,800.2 L801.4,803.1 L807.0,805.9 L812.7,808.7 L818.4,811.4 L824.2,814.2 L830.0,816.9 L835.8,819.5 L841.7,822.2 L847.6,824.7 L853.6,827.2 L859.6,829.7 L865.6,832.2 L871.7,834.6 L877.7,837.0 L883.8,839.4 L889.9,841.8 L896.0,844.2 L902.0,846.6 L908.1,849.0 L914.2,851.4 L920.4,853.8 L926.5,856.1 L932.7,858.4 L938.9,860.7 L945.2,862.9 L951.5,865.1 L957.8,867.2 L964.2,869.4 L970.6,871.4 L977.0,873.5 L983.5,875.5 L989.9,877.5 L996.4,879.5 L1003.0,881.5 L1009.5,883.4 L1016.1,885.4 L1022.6,887.3 L1029.2,889.2 L1035.8,891.1 L1042.4,893.0 L1049.0,894.9 L1055.6,896.7 L1062.3,898.6 L1068.9,900.4 L1075.6,902.1 L1082.4,903.9 L1089.2,905.6 L1095.9,907.3 L1102.8,909.0 L1109.6,910.6 L1116.5,912.2 L1123.4,913.8 L1130.2,915.4 L1137.2,917.0 L1144.1,918.6 L1151.0,920.1 L1157.9,921.7 L1164.9,923.2 L1171.8,924.8 L1178.8,926.3 L1185.8,927.8 L1192.8,929.3 L1199.8,930.7 L1206.9,932.1 L1214.0,933.5 L1221.1,934.8 L1228.3,936.2 L1235.5,937.4 L1242.7,938.7 L1250.0,939.9 L1257.3,941.1 L1264.6,942.3 L1271.9,943.5 L1279.2,944.6 L1286.6,945.8 L1293.9,946.9 L1301.3,948.0 L1308.7,949.1 L1316.1,950.2 L1323.5,951.3 L1330.9,952.4 L1338.3,953.4 L1345.7,954.5 L1353.2,955.5 L1360.6,956.6 L1368.1,957.6 L1375.6,958.6 L1383.1,959.6 L1390.5,960.6 L1398.1,961.6 L1405.6,962.5 L1413.1,963.5 L1420.6,964.4 L1428.2,965.4 L1435.7,966.3 L1443.3,967.2 L1450.9,968.1 L1458.5,969.0 L1466.1,969.9 L1473.7,970.7 L1481.4,971.6 L1489.0,972.4 L1496.7,973.2 L1504.4,974.0 L1512.1,974.8 L1519.8,975.6 L1527.5,976.4 L1535.2,977.1 L1543.0,977.9 L1550.7,978.6 L1558.5,979.3 L1566.3,980.0 L1574.1,980.7 L1581.9,981.4 L1589.7,982.1 L1597.5,982.8 L1605.3,983.4 L1613.1,984.1 L1620.9,984.8 L1628.8,985.4 L1636.6,986.0 L1644.5,986.7 L1652.3,987.3 L1660.2,987.9 L1668.0,988.6 L1675.9,989.2 L1683.8,989.8 L1691.6,990.4 L1699.5,991.1 L1707.4,991.7 L1715.2,992.3 L1723.1,992.9 L1731.0,993.5 L1738.8,994.2" stroke="#800000"/></g>
<g filter="url(#t)"><text class="tk" x="223.5" y="1226.5" text-anchor="end">0.3</text><text class="tk" x="223.5" y="1059.9" text-anchor="end">0.4</text><text class="tk" x="223.5" y="893.2" text-anchor="end">0.5</text><text class="tk" x="223.5" y="726.6" text-anchor="end">0.6</text><text class="tk" x="223.5" y="559.9" text-anchor="end">0.7</text><text class="tk" x="223.5" y="393.3" text-anchor="end">0.8</text><text class="tk" x="223.5" y="226.7" text-anchor="end">0.9</text><text class="tk" x="223.5" y="60.0" text-anchor="end">1.0</text><text class="tk" x="413.5" y="1291.3" text-anchor="middle">500</text><text class="tk" x="629.5" y="1291.3" text-anchor="middle">600</text><text class="tk" x="845.5" y="1291.3" text-anchor="middle">700</text><text class="tk" x="1061.5" y="1291.3" text-anchor="middle">800</text><text class="tk" x="1277.5" y="1291.3" text-anchor="middle">900</text><text class="tk" x="1493.5" y="1291.3" text-anchor="middle">1000</text><text class="tk" x="1709.5" y="1291.3" text-anchor="middle">1100</text><text class="ax" transform="translate(984.5,1388.6) scale(1.006,1)" text-anchor="middle">wavelength (nm)</text><text class="ax" transform="translate(78.7,578.8) rotate(-90) scale(1.0195,1.03)" text-anchor="middle">normalized AOPL</text></g>
<g shape-rendering="crispEdges"><rect x="1159" y="100" width="368" height="607" fill="#000"/><rect x="1162" y="102" width="363" height="602" fill="#fff"/></g><line x1="1169.0" y1="142.0" x2="1304.0" y2="142.0" stroke="#000000" stroke-width="10" stroke-linecap="round" shape-rendering="crispEdges"/><line x1="1168.5" y1="216.5" x2="1304.5" y2="216.5" stroke="#ff0000" stroke-width="9" stroke-linecap="round" shape-rendering="crispEdges"/><line x1="1168.5" y1="291.5" x2="1304.5" y2="291.5" stroke="#0000ff" stroke-width="9" stroke-linecap="round" shape-rendering="crispEdges"/><line x1="1168.5" y1="366.5" x2="1304.5" y2="366.5" stroke="#ff00ff" stroke-width="9" stroke-linecap="round" shape-rendering="crispEdges"/><line x1="1168.5" y1="440.5" x2="1304.5" y2="440.5" stroke="#008000" stroke-width="9" stroke-linecap="round" shape-rendering="crispEdges"/><line x1="1168.5" y1="515.5" x2="1304.5" y2="515.5" stroke="#000080" stroke-width="9" stroke-linecap="round" shape-rendering="crispEdges"/><line x1="1168.5" y1="589.5" x2="1304.5" y2="589.5" stroke="#8000ff" stroke-width="9" stroke-linecap="round" shape-rendering="crispEdges"/><line x1="1168.5" y1="664.5" x2="1304.5" y2="664.5" stroke="#800000" stroke-width="9" stroke-linecap="round" shape-rendering="crispEdges"/>
<g filter="url(#t)"><text class="lg" transform="translate(1321.5,163.0) scale(0.967,1.03)" xml:space="preserve"><tspan class="it">R</tspan> =  0</text><text class="lg" transform="translate(1321.5,237.6) scale(0.967,1.03)" xml:space="preserve"><tspan class="it">R</tspan> = 10</text><text class="lg" transform="translate(1321.5,312.3) scale(0.967,1.03)" xml:space="preserve"><tspan class="it">R</tspan> = 20</text><text class="lg" transform="translate(1321.5,386.9) scale(0.967,1.03)" xml:space="preserve"><tspan class="it">R</tspan> = 30</text><text class="lg" transform="translate(1321.5,461.6) scale(0.967,1.03)" xml:space="preserve"><tspan class="it">R</tspan> = 40</text><text class="lg" transform="translate(1321.5,536.2) scale(0.967,1.03)" xml:space="preserve"><tspan class="it">R</tspan> = 50</text><text class="lg" transform="translate(1321.5,610.8) scale(0.967,1.03)" xml:space="preserve"><tspan class="it">R</tspan> = 60</text><text class="lg" transform="translate(1321.5,685.5) scale(0.967,1.03)" xml:space="preserve"><tspan class="it">R</tspan> = 70</text></g>
</svg></body></html>
